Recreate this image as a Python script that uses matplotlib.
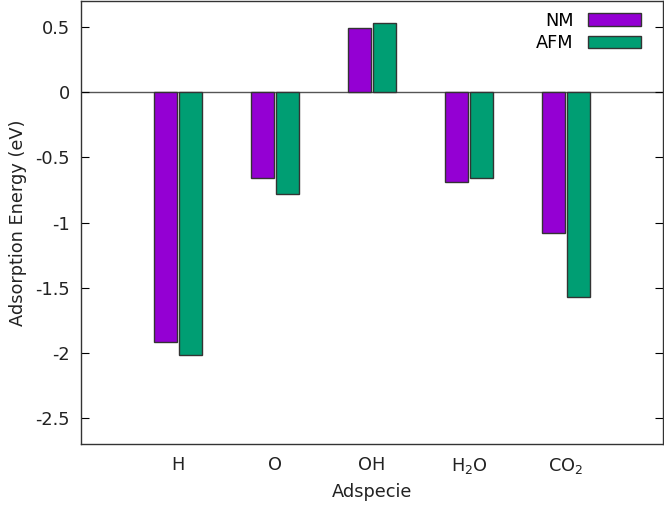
import matplotlib
matplotlib.use("Agg")
import matplotlib.pyplot as plt
from matplotlib.patches import Patch
import numpy as np

categories = ["H", "O", "OH", "H$_2$O", "CO$_2$"]
nm_values = [-1.92, -0.66, 0.49, -0.69, -1.08]
afm_values = [-2.02, -0.78, 0.53, -0.66, -1.57]
yticks = [0.5, 0, -0.5, -1, -1.5, -2, -2.5]
ytick_labels = ["0.5", "0", "-0.5", "-1", "-1.5", "-2", "-2.5"]

FS = 12.8
plt.rcParams['font.family'] = ['DejaVu Sans']
fig = plt.figure(figsize=(6.64, 5.07), dpi=100)
ax = fig.add_axes([81/664, 63/507, 582/664, 443/507])

x = np.arange(len(categories))
w = 0.235
off = 0.13
ax.bar(x - off, nm_values, w, color="#9400D3", edgecolor="#333333", linewidth=1.0, label="NM")
ax.bar(x + off, afm_values, w, color="#009E73", edgecolor="#333333", linewidth=1.0, label="AFM")
ax.axhline(0, color="#555555", linewidth=1.0, zorder=0)

ax.set_xlim(-1, 5)
ax.set_ylim(-2.7, 0.7)
ax.set_xticks(x)
ax.set_xticklabels(categories, fontsize=FS, color="#222222")
ax.tick_params(axis='x', length=0, pad=9)
ax.set_yticks(yticks)
ax.set_yticklabels(ytick_labels, fontsize=FS, color="#222222")
ax.tick_params(axis='y', direction='in', length=6, right=True, pad=8, width=0.8)
ax.set_xlabel("Adspecie", fontsize=FS, color="#222222", labelpad=5)
ax.set_ylabel("Adsorption Energy (eV)", fontsize=FS, color="#222222", labelpad=6)
for s in ax.spines.values():
    s.set_color("#333333")
    s.set_linewidth(1.0)

handles = [Patch(facecolor="#9400D3", edgecolor="#333333"),
           Patch(facecolor="#009E73", edgecolor="#333333")]
leg = ax.legend(handles, ["NM", "AFM"], loc="upper right", frameon=False,
                fontsize=FS, markerfirst=False, handlelength=3.0, handleheight=0.7,
                labelspacing=0.25, bbox_to_anchor=(0.99, 1.012), handletextpad=0.8)
for t in leg.get_texts():
    t.set_ha("right")
fig.savefig("out.png", dpi=100)
